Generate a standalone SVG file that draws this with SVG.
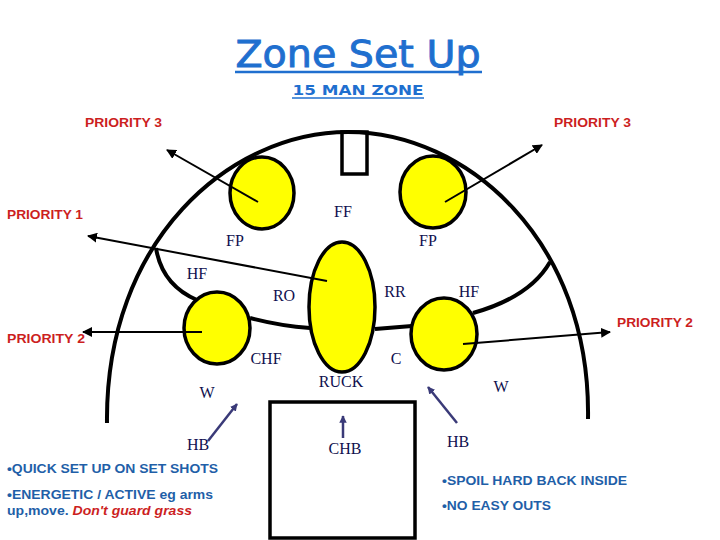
<svg xmlns="http://www.w3.org/2000/svg" width="720" height="540" viewBox="0 0 720 540">
<style>
.pl{fill:#ffff00;stroke:#000;stroke-width:3.5}
.lb{font-family:"Liberation Serif","Times New Roman",serif;font-size:16px;fill:#10104f;text-anchor:middle}
.pr{font-family:"Liberation Sans",Arial,sans-serif;font-size:12.5px;font-weight:bold;fill:#cc1f1f}
.bt{font-family:"Liberation Sans",Arial,sans-serif;font-size:13px;font-weight:bold;fill:#1f5fa8}
.ar{stroke:#000;stroke-width:2;fill:none;marker-end:url(#ah)}
.nv{stroke:#3a3a78;stroke-width:2.5;fill:none;marker-end:url(#nh)}
.ln{stroke:#000;stroke-width:4;fill:none}
</style>
<defs>
<marker id="ah" viewBox="0 0 10 10" refX="9" refY="5" markerWidth="5" markerHeight="5" orient="auto" markerUnits="strokeWidth"><path d="M0,0L10,5L0,10z" fill="#000"/></marker>
<marker id="nh" viewBox="0 0 10 10" refX="9" refY="5" markerWidth="3" markerHeight="3" orient="auto" markerUnits="strokeWidth"><path d="M0,0L10,5L0,10z" fill="#3a3a78"/></marker>
</defs>
<rect width="720" height="540" fill="#fff"/>
<g id="title">
<text x="358" y="67" text-anchor="middle" font-family="'DejaVu Sans',sans-serif" font-size="37" fill="#1f6fcf" stroke="#1f6fcf" stroke-width="0.9" textLength="245" lengthAdjust="spacingAndGlyphs">Zone Set Up</text>
<line x1="235" y1="72" x2="482" y2="72" stroke="#1f6fcf" stroke-width="2.5"/>
<text x="358" y="95" text-anchor="middle" font-family="'DejaVu Sans',sans-serif" font-weight="bold" font-size="14" fill="#1f6fcf" textLength="131" lengthAdjust="spacingAndGlyphs">15 MAN ZONE</text>
<line x1="292" y1="98" x2="424" y2="98" stroke="#1f6fcf" stroke-width="1.5"/>
</g>
<g id="field">
<path class="ln" d="M107,423 C105,240 230,132 348,132 C466,132 591,240 588,419"/>
<path class="ln" stroke-width="3" d="M156,248 Q162,285 197,300"/>
<path class="ln" stroke-width="3" d="M550,262 Q530,297 473,313"/>
<rect x="342" y="132" width="25" height="42" fill="none" stroke="#000" stroke-width="3.5"/>
<rect x="270" y="402" width="145" height="136" fill="none" stroke="#000" stroke-width="3.5"/>
<path class="ln" stroke-width="3" d="M250,318 Q280,326 310,328"/>
<path class="ln" stroke-width="3" d="M375,329 L412,326"/>
</g>
<g id="fp-left"><ellipse class="pl" cx="262" cy="193" rx="32" ry="36"/></g>
<g id="fp-right"><ellipse class="pl" cx="433" cy="192" rx="33" ry="36"/></g>
<g id="ruck"><ellipse class="pl" cx="342" cy="307" rx="33" ry="65"/></g>
<g id="hf-left"><ellipse class="pl" cx="217" cy="328" rx="33" ry="36"/></g>
<g id="hf-right"><ellipse class="pl" cx="444" cy="334" rx="33" ry="36"/></g>
<g id="connectors">
<line class="ar" x1="258" y1="202" x2="167" y2="150"/>
<line class="ar" x1="445" y1="202" x2="542" y2="145"/>
<line class="ar" x1="327" y1="281" x2="88" y2="236"/>
<line class="ar" x1="202" y1="332" x2="83" y2="332"/>
<line class="ar" x1="463" y1="344" x2="610" y2="332"/>
<line class="nv" x1="208" y1="441" x2="237" y2="404"/>
<line class="nv" x1="343" y1="438" x2="343" y2="416"/>
<line class="nv" x1="457" y1="423" x2="428" y2="387"/>
</g>
<g id="labels">
<text class="lb" x="343" y="217">FF</text>
<text class="lb" x="235" y="246">FP</text>
<text class="lb" x="428" y="246">FP</text>
<text class="lb" x="197" y="279">HF</text>
<text class="lb" x="284" y="301">RO</text>
<text class="lb" x="395" y="297">RR</text>
<text class="lb" x="469" y="297">HF</text>
<text class="lb" x="266" y="364">CHF</text>
<text class="lb" x="396" y="364">C</text>
<text class="lb" x="341" y="387">RUCK</text>
<text class="lb" x="207" y="398">W</text>
<text class="lb" x="501" y="392">W</text>
<text class="lb" x="198" y="450">HB</text>
<text class="lb" x="345" y="454">CHB</text>
<text class="lb" x="458" y="447">HB</text>
</g>
<g id="priorities">
<text class="pr" x="85" y="127" textLength="77" lengthAdjust="spacingAndGlyphs">PRIORITY 3</text>
<text class="pr" x="554" y="127" textLength="77" lengthAdjust="spacingAndGlyphs">PRIORITY 3</text>
<text class="pr" x="7" y="219" textLength="76" lengthAdjust="spacingAndGlyphs">PRIORITY 1</text>
<text class="pr" x="7" y="343" textLength="78" lengthAdjust="spacingAndGlyphs">PRIORITY 2</text>
<text class="pr" x="617" y="327" textLength="76" lengthAdjust="spacingAndGlyphs">PRIORITY 2</text>
</g>
<g id="notes">
<text class="bt" x="7" y="473" textLength="211" lengthAdjust="spacingAndGlyphs">•QUICK SET UP ON SET SHOTS</text>
<text class="bt" x="7" y="499" textLength="206" lengthAdjust="spacingAndGlyphs">•ENERGETIC / ACTIVE eg arms</text>
<text class="bt" x="7" y="515" textLength="185" lengthAdjust="spacingAndGlyphs">up,move. <tspan fill="#cc1f1f" font-style="italic">Don't guard grass</tspan></text>
<text class="bt" x="442" y="485" textLength="185" lengthAdjust="spacingAndGlyphs">•SPOIL HARD BACK INSIDE</text>
<text class="bt" x="442" y="510" textLength="109" lengthAdjust="spacingAndGlyphs">•NO EASY OUTS</text>
</g>
</svg>
